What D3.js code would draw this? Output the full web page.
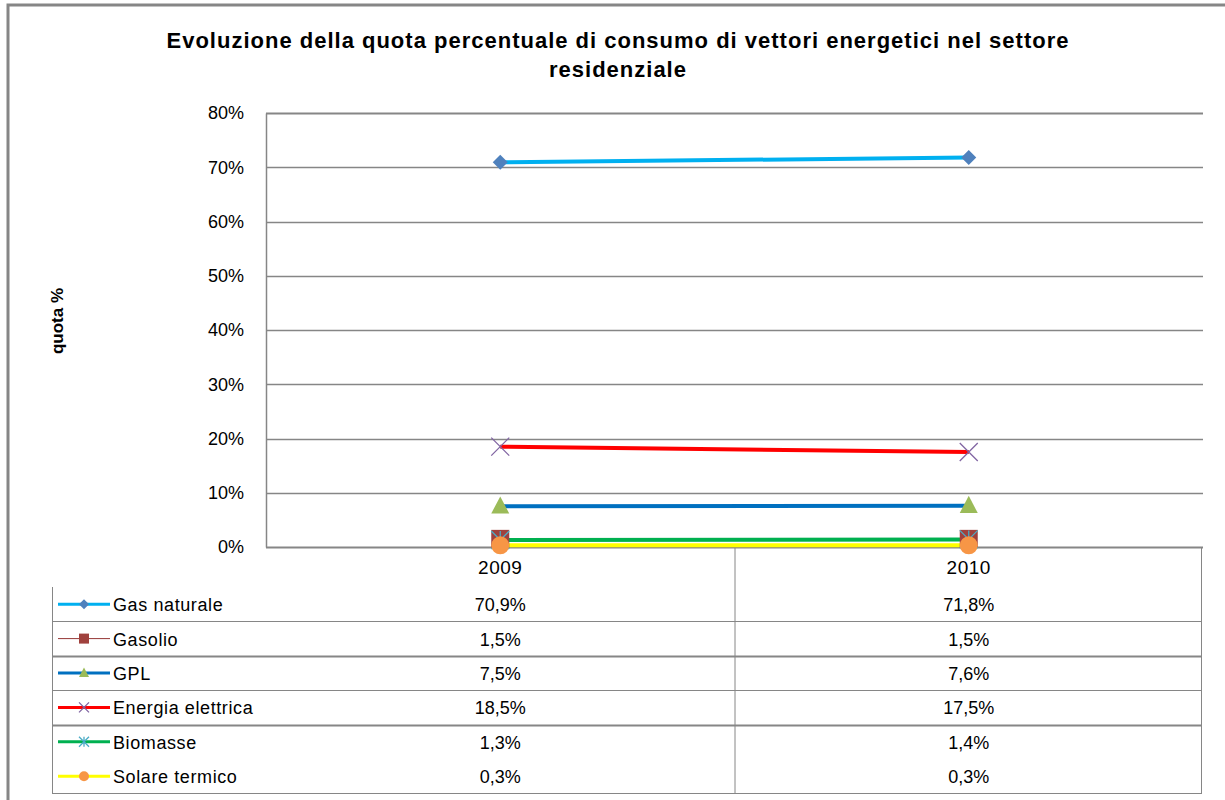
<!DOCTYPE html>
<html>
<head>
<meta charset="utf-8">
<script src="https://cdn.jsdelivr.net/npm/d3@7"></script>
<style>
  body { margin: 0; background: #fff; }
  svg { font-family: "Liberation Sans", Arial, sans-serif; }
</style>
</head>
<body>
<div id="chart_div"></div>
<script>
// data
const years = ["2009", "2010"];
const seriesNames = ["Gas naturale", "Gasolio", "GPL", "Energia elettrica", "Biomasse", "Solare termico"];
const gasNaturale = [70.9, 71.8];
const gasolio = [1.5, 1.5];
const gpl = [7.5, 7.6];
const energiaElettrica = [18.5, 17.5];
const biomasse = [1.3, 1.4];
const solareTermico = [0.3, 0.3];
const yTicks = [0, 10, 20, 30, 40, 50, 60, 70, 80];

const seriesValues = [gasNaturale, gasolio, gpl, energiaElettrica, biomasse, solareTermico];
const styles = [
  { line: "#00B0F0", width: 4, marker: "diamond", fill: "#4F81BD" },
  { line: "#953735", width: 1, marker: "square", fill: "#A0413D" },
  { line: "#0070C0", width: 4, marker: "triangle", fill: "#9BBB59" },
  { line: "#FF0000", width: 4, marker: "x", fill: "#8064A2" },
  { line: "#00B050", width: 4, marker: "star", fill: "#4BACC6" },
  { line: "#FFFF00", width: 4, marker: "circle", fill: "#F79646" }
];

const W = 1225, H = 800;
const plot = { left: 266, right: 1203, top: 113, bottom: 547 };
const table = { left: 52, right: 1201, headBottom: 587, rowH: 34.4 };

const svg = d3.select("#chart_div").append("svg")
  .attr("width", W).attr("height", H);

// outer frame
svg.append("rect").attr("x", 8).attr("y", 5).attr("width", W + 10).attr("height", H + 10)
  .attr("fill", "none").attr("stroke", "#868686").attr("stroke-width", 3);

// title
const title = svg.append("text").attr("text-anchor", "middle")
  .attr("font-weight", "bold").attr("font-size", 22).attr("letter-spacing", 1)
  .attr("fill", "#000");
title.append("tspan").attr("x", 618).attr("y", 48)
  .text("Evoluzione della quota percentuale di consumo di vettori energetici nel settore");
title.append("tspan").attr("x", 618).attr("y", 77).text("residenziale");

const x = d3.scaleBand().domain(years).range([plot.left, plot.right]);
const y = d3.scaleLinear().domain([0, 80]).range([plot.bottom, plot.top]);

// gridlines
svg.append("g").selectAll("line").data(yTicks).join("line")
  .attr("x1", plot.left).attr("x2", plot.right)
  .attr("y1", d => Math.round(y(d)) + 0.5).attr("y2", d => Math.round(y(d)) + 0.5)
  .attr("stroke", "#868686").attr("stroke-width", d => d === 80 || d === 0 ? 2 : 1.3);

// y axis
const yAxis = svg.append("g").attr("transform", `translate(${plot.left},0)`)
  .call(d3.axisLeft(y).tickValues(yTicks).tickSize(0).tickPadding(22).tickFormat(d => d + "%"));
yAxis.select(".domain").attr("stroke", "#868686").attr("stroke-width", 1.5);
yAxis.selectAll("text").attr("font-size", 18).attr("fill", "#000")
  .attr("font-family", "Liberation Sans, Arial, sans-serif");

svg.append("text").attr("transform", "translate(63,321) rotate(-90)")
  .attr("text-anchor", "middle").attr("font-weight", "bold").attr("font-size", 17)
  .text("quota %");

// data table
const tg = svg.append("g").attr("stroke", "#868686").attr("fill", "none");
const rowY = i => table.headBottom + i * table.rowH;
tg.append("line").attr("x1", table.left + 0.5).attr("x2", table.left + 0.5)
  .attr("y1", rowY(0)).attr("y2", rowY(6));
tg.append("line").attr("x1", x("2010") + 0.5).attr("x2", x("2010") + 0.5)
  .attr("y1", plot.bottom).attr("y2", rowY(6));
tg.append("line").attr("x1", table.right + 0.5).attr("x2", table.right + 0.5)
  .attr("y1", plot.bottom).attr("y2", rowY(6));
[1, 2, 3, 4, 6].forEach(i => {
  tg.append("line").attr("x1", table.left).attr("x2", table.right + 1)
    .attr("y1", Math.round(rowY(i)) + 0.5).attr("y2", Math.round(rowY(i)) + 0.5)
    .attr("stroke-width", i === 2 || i === 4 ? 2 : 1);
});

// category labels
svg.append("g").selectAll("text").data(years).join("text")
  .attr("x", d => x(d) + x.bandwidth() / 2).attr("y", 574)
  .attr("text-anchor", "middle").attr("font-size", 19).attr("letter-spacing", 0.5).text(d => d);

function markerPath(type, size) {
  const s = size / 2;
  switch (type) {
    case "diamond": return `M0,${-s}L${s},0L0,${s}L${-s},0Z`;
    case "square": return `M${-s},${-s}H${s}V${s}H${-s}Z`;
    case "triangle": return `M0,${-s * 1.1}L${s},${s * 0.8}L${-s},${s * 0.8}Z`;
    case "x": return `M${-s},${-s}L${s},${s}M${s},${-s}L${-s},${s}`;
    case "star": return `M${-s},${-s}L${s},${s}M${s},${-s}L${-s},${s}M0,${-s}V${s}`;
    case "circle": return d3.symbol(d3.symbolCircle, Math.PI * s * s)();
  }
}
function drawMarker(g, st, size) {
  const stroked = st.marker === "x" || st.marker === "star";
  g.append("path").attr("d", markerPath(st.marker, size))
    .attr("fill", stroked ? "none" : st.fill)
    .attr("stroke", stroked ? st.fill : "none")
    .attr("stroke-width", stroked ? 1.3 : 0);
}

// legend rows & values
seriesNames.forEach((name, i) => {
  const st = styles[i];
  const cy = rowY(i) + table.rowH / 2;
  const lg = svg.append("g");
  lg.append("line").attr("x1", 58).attr("x2", 110).attr("y1", cy).attr("y2", cy)
    .attr("stroke", st.line).attr("stroke-width", st.width === 1 ? 1 : 3);
  drawMarker(lg.append("g").attr("transform", `translate(84,${cy})`), st, 10);
  lg.append("text").attr("x", 113).attr("y", cy + 7).attr("font-size", 18)
    .attr("letter-spacing", 0.6).text(name);
  svg.append("g").selectAll("text").data(seriesValues[i]).join("text")
    .attr("x", (d, j) => x(years[j]) + x.bandwidth() / 2).attr("y", cy + 7)
    .attr("text-anchor", "middle").attr("font-size", 18)
    .text(d => d.toFixed(1).replace(".", ",") + "%");
});

// lines and markers
const line = d3.line().x((d, j) => x(years[j]) + x.bandwidth() / 2).y(d => y(d));
seriesValues.forEach((vals, i) => {
  svg.append("path").datum(vals).attr("d", line)
    .attr("fill", "none").attr("stroke", styles[i].line).attr("stroke-width", styles[i].width);
});
seriesValues.forEach((vals, i) => {
  vals.forEach((v, j) => {
    const g = svg.append("g")
      .attr("transform", `translate(${x(years[j]) + x.bandwidth() / 2},${y(v)})`);
    drawMarker(g, styles[i], styles[i].marker === "diamond" ? 15 : 18);
  });
});
</script>
</body>
</html>
